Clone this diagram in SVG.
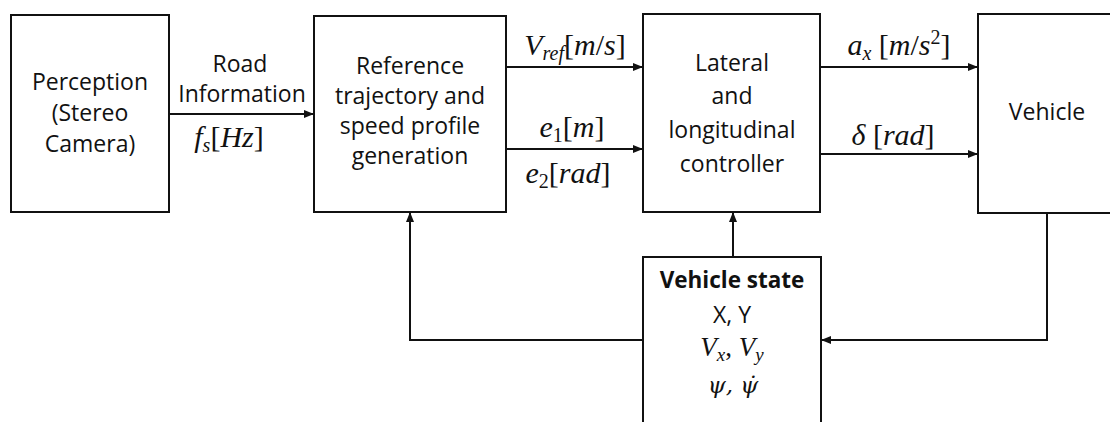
<svg xmlns="http://www.w3.org/2000/svg" width="1110" height="422" viewBox="0 0 1110 422">
<style>
.box{fill:#fff;stroke:#111;stroke-width:2}
.t{font-family:"Open Sans","Noto Sans",sans-serif;font-size:23px;fill:#111;text-anchor:middle}
.b{font-weight:bold;font-size:22.5px}
.m{font-family:"Liberation Serif","DejaVu Serif",serif;font-size:30px;fill:#111;text-anchor:middle}
.s{font-size:27px}
.i{font-style:italic}
.c{stroke:#111;stroke-width:2;fill:none}
</style>
<defs>
<marker id="ah" viewBox="0 0 10 8" refX="10" refY="4" markerWidth="10" markerHeight="8" markerUnits="userSpaceOnUse" orient="auto">
<path d="M0,0 L10,4 L0,8 z" fill="#111"/>
</marker>
</defs>
<g id="perception">
<rect class="box" x="11" y="15" width="158" height="197"/>
<text class="t" x="90" y="90">Perception</text>
<text class="t" x="90" y="121">(Stereo</text>
<text class="t" x="90" y="152">Camera)</text>
</g>
<g id="reference">
<rect class="box" x="314" y="16" width="192" height="196"/>
<text class="t" x="410" y="74">Reference</text>
<text class="t" x="410" y="104">trajectory and</text>
<text class="t" x="410" y="134">speed profile</text>
<text class="t" x="410" y="164">generation</text>
</g>
<g id="controller">
<rect class="box" x="643" y="14" width="177" height="198"/>
<text class="t" x="732" y="71">Lateral</text>
<text class="t" x="732" y="104">and</text>
<text class="t" x="732" y="138">longitudinal</text>
<text class="t" x="732" y="172">controller</text>
</g>
<g id="vehicle">
<rect class="box" x="978" y="14" width="140" height="199"/>
<text class="t" x="1047" y="120">Vehicle</text>
</g>
<g id="vehicle-state">
<rect class="box" x="643" y="257" width="178" height="175"/>
<text class="t b" x="732" y="288">Vehicle state</text>
<text class="t" x="732" y="323">X, Y</text>
<text class="m s" x="732" y="356"><tspan class="i">V</tspan><tspan class="i" font-size="19" dy="5">x</tspan><tspan dy="-5">, </tspan><tspan class="i">V</tspan><tspan class="i" font-size="19" dy="5">y</tspan></text>
<text x="733" y="393" font-family="'DejaVu Serif',serif" font-style="italic" font-size="23" fill="#111" text-anchor="middle">ψ, ψ̇</text>
</g>
<g id="connectors">
<line class="c" x1="169" y1="114" x2="314" y2="114" marker-end="url(#ah)"/>
<line class="c" x1="506" y1="67" x2="643" y2="67" marker-end="url(#ah)"/>
<line class="c" x1="506" y1="149" x2="643" y2="149" marker-end="url(#ah)"/>
<line class="c" x1="820" y1="67" x2="978" y2="67" marker-end="url(#ah)"/>
<line class="c" x1="820" y1="154" x2="978" y2="154" marker-end="url(#ah)"/>
<line class="c" x1="733" y1="257" x2="733" y2="212" marker-end="url(#ah)"/>
<polyline class="c" points="643,340 410,340 410,212" marker-end="url(#ah)"/>
<polyline class="c" points="1047,213 1047,340 821,340" marker-end="url(#ah)"/>
</g>
<g id="labels">
<text class="t" x="240" y="72">Road</text>
<text class="t" x="242" y="102">Information</text>
<text class="m" x="229" y="147"><tspan class="i">f</tspan><tspan class="i" font-size="20" dy="5">s</tspan><tspan dy="-5">[</tspan><tspan class="i">Hz</tspan>]</text>
<text class="m" x="575" y="55"><tspan class="i">V</tspan><tspan class="i" font-size="20" dy="5">ref</tspan><tspan dy="-5">[</tspan><tspan class="i">m</tspan>/<tspan class="i">s</tspan>]</text>
<text class="m" x="572" y="137"><tspan class="i">e</tspan><tspan font-size="20" dy="5">1</tspan><tspan dy="-5">[</tspan><tspan class="i">m</tspan>]</text>
<text class="m" x="568" y="183"><tspan class="i">e</tspan><tspan font-size="20" dy="5">2</tspan><tspan dy="-5">[</tspan><tspan class="i">rad</tspan>]</text>
<text class="m" x="899" y="55"><tspan class="i">a</tspan><tspan class="i" font-size="20" dy="5">x</tspan><tspan dy="-5"> [</tspan><tspan class="i">m</tspan>/<tspan class="i">s</tspan><tspan font-size="20" dy="-11">2</tspan><tspan dy="11">]</tspan></text>
<text class="m" x="893" y="145"><tspan class="i">δ</tspan> [<tspan class="i">rad</tspan>]</text>
</g>
</svg>
